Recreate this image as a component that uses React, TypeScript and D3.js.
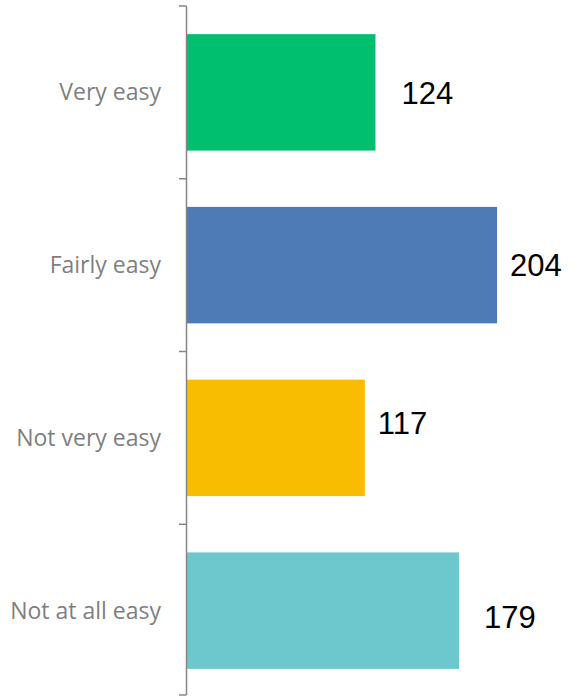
import React from 'react';
import * as d3 from 'd3';

const categories = ['Very easy', 'Fairly easy', 'Not very easy', 'Not at all easy'];
const values = [124, 204, 117, 179];
const colours = ['#00BF6F', '#4E7BB5', '#F8BD00', '#6CC8CC'];
// label nudges (px) relative to bar end / bar centre, as placed in the original
const labelDx = [26, 13, 13, 25];
const labelDy = [0, 0, -15, 6];

const W = 569;
const H = 698;
const axisX = 186.5;

export default function App() {
    const y = d3.scaleBand<string>()
        .domain(categories)
        .range([6, 697])
        .paddingInner(0.326)
        .paddingOuter(0.163);

    const x = d3.scaleLinear()
        .domain([0, 250])
        .range([187, 187 + 250 * 1.52]);

    const step = y.step();
    const tickYs = categories.map(c => (y(c) as number) - step * 0.163);
    tickYs.push(695);

    return (
        <div style={{ position: 'absolute', left: 0, top: 0 }}>
            <svg width={W} height={H} style={{ display: 'block' }}>
                {categories.map((c, i) => (
                    <rect key={c}
                        x={x(0)}
                        y={y(c)}
                        width={x(values[i]) - x(0)}
                        height={y.bandwidth()}
                        fill={colours[i]} />
                ))}
                <line x1={axisX} x2={axisX} y1={tickYs[0]} y2={695} stroke="#868686" strokeWidth={1.5} />
                {tickYs.map((t, i) => (
                    <line key={i} x1={179} x2={axisX} y1={t} y2={t} stroke="#868686" strokeWidth={1.5} />
                ))}
                {categories.map(c => (
                    <text key={c}
                        x={161}
                        y={(y(c) as number) + y.bandwidth() / 2}
                        dy="0.35em"
                        textAnchor="end"
                        fontFamily="'Open Sans', sans-serif"
                        fontSize={23}
                        fill="#7F7F7F">{c}</text>
                ))}
                {categories.map((c, i) => (
                    <text key={c}
                        x={x(values[i]) + labelDx[i]}
                        y={(y(c) as number) + y.bandwidth() / 2 + labelDy[i]}
                        dy="0.36em"
                        fontFamily="'Liberation Sans', Arial, sans-serif"
                        fontSize={31}
                        fill="#000">{values[i]}</text>
                ))}
            </svg>
        </div>
    );
}
